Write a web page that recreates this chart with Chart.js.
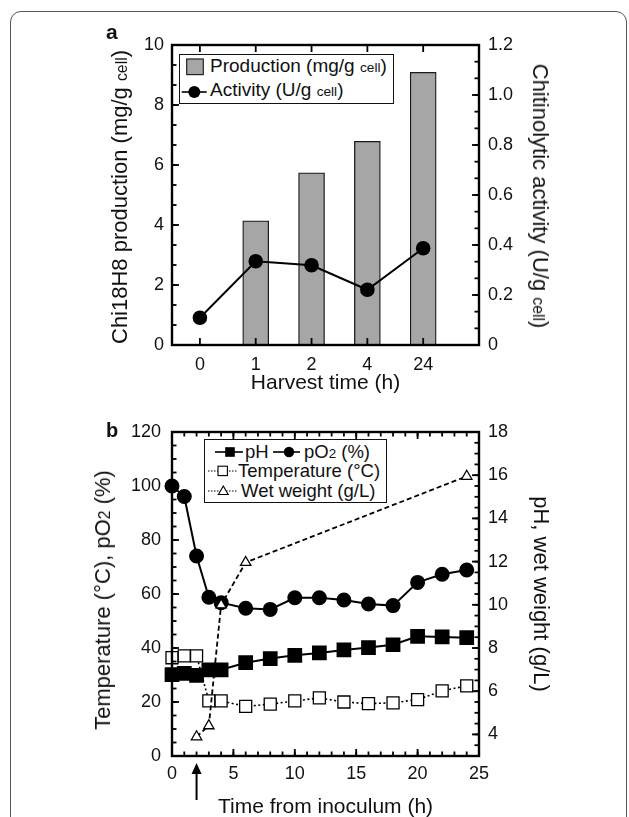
<!DOCTYPE html>
<html lang="en">
<head>
<meta charset="UTF-8">
<title>Chi18H8 production and fermentation</title>
<script src="https://cdn.jsdelivr.net/npm/chart.js"></script>
<style>
    html, body {
        margin: 0;
        padding: 0;
        width: 629px;
        height: 817px;
        overflow: hidden;
        background: #fff;
    }
    body {
        position: relative;
        font-family: "Liberation Sans", Arial, sans-serif;
        color: #111;
    }
    .frame {
        position: absolute;
        left: 10px;
        top: 11px;
        width: 617px;
        height: 900px;
        border: 1.3px solid #555;
        border-radius: 11px;
        box-sizing: border-box;
    }
    canvas {
        position: absolute;
        left: 0;
    }
    .panel {
        position: absolute;
        font-weight: bold;
        line-height: 1;
    }
    .vtitle {
        position: absolute;
        white-space: nowrap;
        font-size: 22px;
        line-height: 26px;
    }
    .legend {
        position: absolute;
        border: 1.2px solid #111;
        box-sizing: border-box;
        background: #fff;
    }
    .txt {
        position: absolute;
        white-space: nowrap;
    }
    .sym {
        position: absolute;
        overflow: visible;
    }
    .sm {
        font-size: 0.72em;
    }
</style>
</head>
<body>
<div class="frame"></div>

<canvas id="chartA" width="629" height="400" style="top:0"></canvas>
<canvas id="chartB" width="629" height="430" style="top:400px"></canvas>

<div class="panel" style="left:106px; top:21px; font-size:21px;">a</div>
<div class="panel" style="left:106px; top:420px; font-size:20px;">b</div>

<!-- axis titles with small "cell" / subscript -->
<div class="vtitle" style="left:121px; top:197px; transform:translate(-50%,-50%) rotate(-90deg);">Chi18H8 production (mg/g <span class="sm">cell</span>)</div>
<div class="vtitle" style="left:539px; top:196px; transform:translate(-50%,-50%) rotate(90deg);">Chitinolytic activity (U/g <span class="sm">cell</span>)</div>
<div class="vtitle" style="left:104px; top:600px; transform:translate(-50%,-50%) rotate(-90deg);">Temperature (°C), pO<span class="sm">2</span> (%)</div>

<!-- legend a -->
<div class="legend" style="left:179px; top:54px; width:215px; height:50px;"></div>
<svg class="sym" style="left:186px; top:58px;" width="19" height="18">
    <rect x="0.7" y="1" width="16.6" height="15.6" fill="#a6a6a6" stroke="#222" stroke-width="1.2"/>
</svg>
<div class="txt" style="left:210px; top:55px; font-size:19px; line-height:22px;">Production (mg/g <span class="sm">cell</span>)</div>
<svg class="sym" style="left:181px; top:84px;" width="27" height="16">
    <line x1="0.7" y1="8" x2="25.7" y2="8" stroke="#000" stroke-width="1.6"/>
    <circle cx="13.3" cy="8" r="6" fill="#000"/>
</svg>
<div class="txt" style="left:210px; top:79px; font-size:19px; line-height:22px;">Activity (U/g <span class="sm">cell</span>)</div>

<!-- legend b -->
<div class="legend" style="left:204px; top:439px; width:183px; height:64px;"></div>
<svg class="sym" style="left:214px; top:445px;" width="30" height="14">
    <line x1="1" y1="7" x2="29" y2="7" stroke="#000" stroke-width="1.6"/>
    <rect x="11.2" y="2.2" width="9.6" height="9.6" fill="#000"/>
</svg>
<div class="txt" style="left:245px; top:441px; font-size:18.5px; line-height:21px;">pH</div>
<svg class="sym" style="left:272px; top:445px;" width="30" height="14">
    <line x1="1" y1="7" x2="28" y2="7" stroke="#000" stroke-width="1.6"/>
    <circle cx="17" cy="7" r="5.2" fill="#000"/>
</svg>
<div class="txt" style="left:304px; top:441px; font-size:18.5px; line-height:21px;">pO<span class="sm">2</span> (%)</div>
<svg class="sym" style="left:207px; top:464px;" width="32" height="14">
    <line x1="1" y1="7" x2="30" y2="7" stroke="#000" stroke-width="1.2" stroke-dasharray="1.5,1.5"/>
    <rect x="11" y="2.2" width="9.4" height="9.4" fill="#fff" stroke="#000" stroke-width="1.1"/>
</svg>
<div class="txt" style="left:238px; top:460px; font-size:18.5px; line-height:21px;">Temperature (°C)</div>
<svg class="sym" style="left:207px; top:484px;" width="32" height="14">
    <line x1="1" y1="7" x2="30" y2="7" stroke="#000" stroke-width="1.2" stroke-dasharray="1.5,1.5"/>
    <polygon points="16.3,2 21.2,10.5 11.4,10.5" fill="#fff" stroke="#000" stroke-width="1.1"/>
</svg>
<div class="txt" style="left:241px; top:480px; font-size:18.5px; line-height:21px;">Wet weight (g/L)</div>

<script>
    // ---- panel a: harvest time ----
    const harvestTimes = ['0', '1', '2', '4', '24'];
    const production = [null, 4.14, 5.74, 6.79, 9.09];     // mg/g cell
    const activity = [0.109, 0.335, 0.319, 0.221, 0.387];   // U/g cell
    const prodTicks = [0, 2, 4, 6, 8, 10];
    const actTicks = [0, 0.2, 0.4, 0.6, 0.8, 1.0, 1.2];

    // ---- panel b: time from inoculum ----
    const timeH = [0, 1, 2, 3, 4, 6, 8, 10, 12, 14, 16, 18, 20, 22, 24];
    const pH = [6.77, 6.83, 6.73, 6.99, 6.99, 7.32, 7.51, 7.66, 7.77, 7.91, 8.02, 8.15, 8.54, 8.51, 8.48];
    const pO2 = [100, 96.1, 74.1, 58.8, 56.8, 54.7, 54.3, 58.6, 58.6, 57.8, 56.3, 55.7, 64.3, 67.3, 68.9];
    const temperature = [36.4, 37.1, 37.1, 20.4, 20.4, 18.4, 19.2, 20.4, 21.5, 20.0, 19.4, 19.7, 20.9, 24.1, 26.0];
    const wetTime = [2, 3, 4, 6, 24];
    const wetWeight = [3.89, 4.40, 10.0, 11.96, 15.95];
    const timeTicks = [0, 5, 10, 15, 20, 25];
    const leftTicksB = [0, 20, 40, 60, 80, 100, 120];
    const rightTicksB = [4, 6, 8, 10, 12, 14, 16, 18];
    const inoculationTime = 2;

    Chart.defaults.font.family = '"Liberation Sans", Arial, sans-serif';
    Chart.defaults.font.size = 18;
    Chart.defaults.color = '#111';

    function steps(from, to, step) {
        const out = [];
        for (let v = from; v <= to + 1e-9; v += step) out.push(+v.toFixed(4));
        return out;
    }

    // frame box + inward tick marks (major and minor)
    function boxTicks(marks) {
        return {
            id: 'boxTicks',
            afterDraw(chart) {
                const ctx = chart.ctx, a = chart.chartArea;
                ctx.save();
                ctx.strokeStyle = '#000';
                ctx.lineWidth = 1.8;
                ctx.setLineDash([]);
                for (const m of marks) {
                    const s = chart.scales[m.axis];
                    for (const v of m.values) {
                        const p = s.getPixelForValue(v);
                        ctx.beginPath();
                        if (s.isHorizontal()) {
                            ctx.moveTo(p, a.bottom);
                            ctx.lineTo(p, a.bottom - m.len);
                            ctx.moveTo(p, a.top);
                            ctx.lineTo(p, a.top + m.len);
                        } else if (s.position === 'left') {
                            ctx.moveTo(a.left, p);
                            ctx.lineTo(a.left + m.len, p);
                        } else {
                            ctx.moveTo(a.right, p);
                            ctx.lineTo(a.right - m.len, p);
                        }
                        ctx.stroke();
                    }
                }
                ctx.lineWidth = 2.4;
                ctx.strokeRect(a.left, a.top, a.right - a.left, a.bottom - a.top);
                ctx.restore();
            }
        };
    }

    // arrow under the time axis
    function arrowMark(at) {
        return {
            id: 'arrowMark',
            afterDraw(chart) {
                const ctx = chart.ctx;
                const x = chart.scales.x.getPixelForValue(at);
                const tip = chart.chartArea.bottom + 7, tail = chart.chartArea.bottom + 44;
                ctx.save();
                ctx.fillStyle = '#000';
                ctx.strokeStyle = '#000';
                ctx.lineWidth = 2;
                ctx.beginPath();
                ctx.moveTo(x, tip + 8);
                ctx.lineTo(x, tail);
                ctx.stroke();
                ctx.beginPath();
                ctx.moveTo(x, tip);
                ctx.lineTo(x - 5, tip + 11);
                ctx.lineTo(x + 5, tip + 11);
                ctx.closePath();
                ctx.fill();
                ctx.restore();
            }
        };
    }

    const harvestIdx = harvestTimes.map((t, i) => i);

    new Chart(document.getElementById('chartA'), {
        type: 'bar',
        data: {
            datasets: [{
                type: 'line',
                label: 'Activity (U/g cell)',
                data: harvestIdx.map(i => ({x: i, y: activity[i]})),
                yAxisID: 'yAct',
                borderColor: '#000',
                backgroundColor: '#000',
                borderWidth: 2,
                pointRadius: 6.3,
                pointHoverRadius: 6.3,
                order: 0,
                clip: false
            }, {
                type: 'bar',
                label: 'Production (mg/g cell)',
                data: harvestIdx.map(i => ({x: i, y: production[i]})),
                yAxisID: 'yProd',
                backgroundColor: '#a6a6a6',
                borderColor: '#1a1a1a',
                borderWidth: 1.3,
                barThickness: 26,
                order: 1
            }]
        },
        options: {
            responsive: false,
            animation: false,
            events: [],
            layout: {padding: {top: 45, left: 0, right: 0, bottom: 0}},
            plugins: {
                legend: {display: false},
                tooltip: {enabled: false}
            },
            scales: {
                x: {
                    type: 'linear',
                    min: -0.5,
                    max: 5,
                    offset: false,
                    afterBuildTicks: s => { s.ticks = harvestIdx.map(v => ({value: v})); },
                    afterFit: s => { s.height = 55; },
                    grid: {display: false, drawTicks: false},
                    border: {display: false},
                    ticks: {callback: v => harvestTimes[v], padding: 9, maxRotation: 0, autoSkip: false},
                    title: {display: true, text: 'Harvest time (h)', font: {size: 21}, padding: {top: 0, bottom: 4}}
                },
                yProd: {
                    position: 'left',
                    min: 0,
                    max: 10,
                    afterBuildTicks: s => { s.ticks = prodTicks.map(v => ({value: v})); },
                    afterFit: s => { s.width = 172; },
                    grid: {display: false, drawTicks: false},
                    border: {display: false},
                    ticks: {padding: 8}
                },
                yAct: {
                    position: 'right',
                    min: 0,
                    max: 1.2,
                    afterBuildTicks: s => { s.ticks = actTicks.map(v => ({value: v})); },
                    afterFit: s => { s.width = 150; },
                    grid: {display: false, drawTicks: false},
                    border: {display: false},
                    ticks: {padding: 9, callback: v => v === 0 ? '0' : v.toFixed(1)}
                }
            }
        },
        plugins: [boxTicks([
            {axis: 'x', values: harvestIdx, len: 7},
            {axis: 'yProd', values: prodTicks, len: 7},
            {axis: 'yProd', values: steps(0, 10, 2 / 3), len: 4.5},
            {axis: 'yAct', values: actTicks, len: 7},
            {axis: 'yAct', values: steps(0, 1.2, 0.2 / 3), len: 4.5}
        ])]
    });

    new Chart(document.getElementById('chartB'), {
        type: 'line',
        data: {
            datasets: [{
                label: 'Wet weight (g/L)',
                data: wetTime.map((t, i) => ({x: t, y: wetWeight[i]})),
                yAxisID: 'yR',
                borderColor: '#000',
                borderWidth: 1.8,
                borderDash: [5, 3],
                pointStyle: 'triangle',
                pointRadius: 6,
                pointHoverRadius: 6,
                pointBackgroundColor: '#fff',
                pointBorderColor: '#000',
                pointBorderWidth: 1.3,
                order: 0,
                clip: false
            }, {
                label: 'pO2 (%)',
                data: timeH.map((t, i) => ({x: t, y: pO2[i]})),
                yAxisID: 'yL',
                borderColor: '#000',
                backgroundColor: '#000',
                borderWidth: 2,
                pointStyle: 'circle',
                pointRadius: 6.5,
                pointHoverRadius: 6.5,
                order: 1,
                clip: false
            }, {
                label: 'Temperature (°C)',
                data: timeH.map((t, i) => ({x: t, y: temperature[i]})),
                yAxisID: 'yL',
                borderColor: '#000',
                borderWidth: 1.6,
                borderDash: [2, 2.5],
                pointStyle: 'rect',
                pointRadius: 8.5,
                pointHoverRadius: 8.5,
                pointBackgroundColor: '#fff',
                pointBorderColor: '#000',
                pointBorderWidth: 1.3,
                order: 2,
                clip: false
            }, {
                label: 'pH',
                data: timeH.map((t, i) => ({x: t, y: pH[i]})),
                yAxisID: 'yR',
                borderColor: '#000',
                backgroundColor: '#000',
                borderWidth: 2,
                pointStyle: 'rect',
                pointRadius: 9,
                pointHoverRadius: 9,
                order: 3,
                clip: false
            }]
        },
        options: {
            responsive: false,
            animation: false,
            events: [],
            layout: {padding: {top: 32, left: 0, right: 0, bottom: 0}},
            plugins: {
                legend: {display: false},
                tooltip: {enabled: false}
            },
            scales: {
                x: {
                    type: 'linear',
                    min: 0,
                    max: 25,
                    afterBuildTicks: s => { s.ticks = timeTicks.map(v => ({value: v})); },
                    afterFit: s => { s.height = 74; },
                    grid: {display: false, drawTicks: false},
                    border: {display: false},
                    ticks: {padding: 7, maxRotation: 0, autoSkip: false},
                    title: {display: true, text: 'Time from inoculum (h)', font: {size: 21}, padding: {top: 0, bottom: 10}}
                },
                yL: {
                    position: 'left',
                    min: 0,
                    max: 120,
                    afterBuildTicks: s => { s.ticks = leftTicksB.map(v => ({value: v})); },
                    afterFit: s => { s.width = 172; },
                    grid: {display: false, drawTicks: false},
                    border: {display: false},
                    ticks: {padding: 11}
                },
                yR: {
                    position: 'right',
                    min: 3,
                    max: 18,
                    afterBuildTicks: s => { s.ticks = rightTicksB.map(v => ({value: v})); },
                    afterFit: s => { s.width = 150; },
                    grid: {display: false, drawTicks: false},
                    border: {display: false},
                    ticks: {padding: 9},
                    title: {display: true, text: 'pH, wet weight (g/L)', font: {size: 22}, padding: {top: 76, bottom: 0}}
                }
            }
        },
        plugins: [
            boxTicks([
                {axis: 'x', values: timeTicks, len: 7},
                {axis: 'x', values: steps(0, 25, 1), len: 4.5},
                {axis: 'yL', values: leftTicksB, len: 7},
                {axis: 'yL', values: steps(0, 120, 5), len: 4.5},
                {axis: 'yR', values: rightTicksB, len: 7},
                {axis: 'yR', values: steps(3, 18, 0.5), len: 4.5}
            ]),
            arrowMark(inoculationTime)
        ]
    });
</script>
</body>
</html>
